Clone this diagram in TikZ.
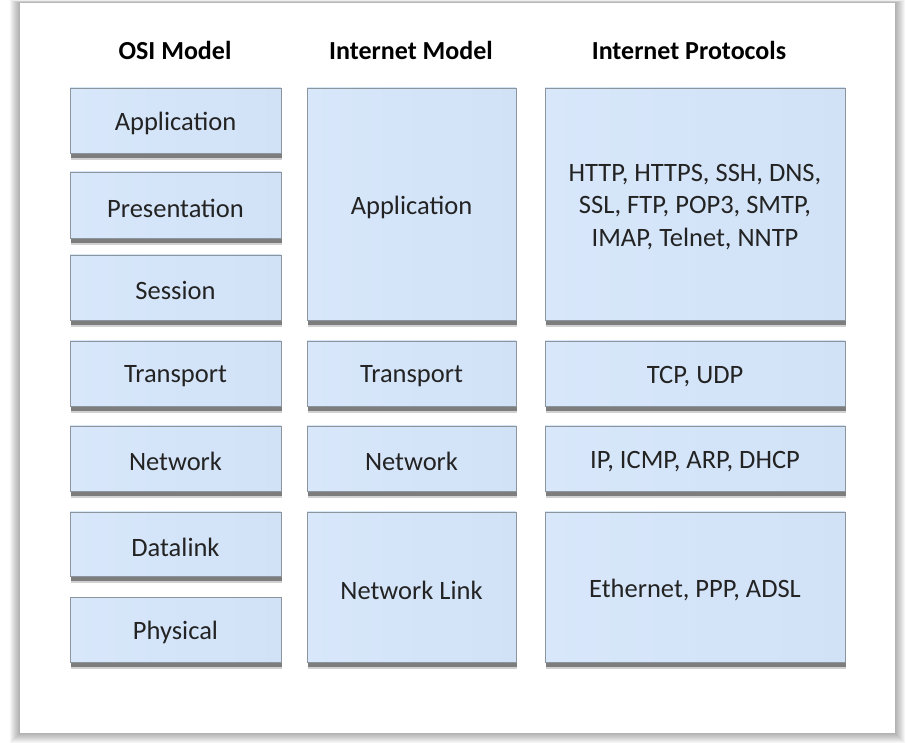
\documentclass[tikz,border=0pt]{standalone}
\usepackage{fontspec}
\setmainfont{Carlito}
\usetikzlibrary{shadows}
\definecolor{boxfill}{RGB}{209,226,247}
\definecolor{boxtop}{RGB}{216,231,250}
\definecolor{boxline}{RGB}{140,148,158}
\definecolor{txt}{RGB}{35,35,35}
\tikzset{
  layer/.style={draw=boxline, line width=0.9pt, left color=boxtop, right color=boxfill,
    text=txt, font=\fontsize{26.5}{32.5}\selectfont, align=center, inner sep=0pt,
    drop shadow={shadow xshift=1pt, shadow yshift=-7pt, opacity=0.18, fill=black},
    drop shadow={shadow xshift=0.5pt, shadow yshift=-5pt, opacity=0.4, fill=black}},
  lbl/.style={text=txt, font=\fontsize{26.5}{32.5}\selectfont, align=center, inner sep=0pt, yshift=-3pt},
  head/.style={font=\fontsize{26}{30}\selectfont\bfseries, text=black, inner sep=0pt}
}
\begin{document}
\begin{tikzpicture}[x=1pt,y=-1pt]
\useasboundingbox (0,0) rectangle (906,743);
% panel shadow
\foreach \i in {1,...,10}
  \fill[black,opacity=0.035] (20-\i,{3-0.3*\i}) rectangle (895+\i,733+\i);
\fill[white] (20,3) rectangle (895,733);
% headers
\node[head] (h1) at (175,50) {OSI Model};
\node[head] (h2) at (411,50) {Internet Model};
\node[head] (h3) at (689,50) {Internet Protocols};
% OSI column
\node[layer, minimum width=211pt, minimum height=65pt] (oa) at (175.5,120.5) {};
\node[layer, minimum width=211pt, minimum height=66pt] (op) at (175.5,205) {};
\node[layer, minimum width=211pt, minimum height=65pt] (os) at (175.5,287.5) {};
\node[layer, minimum width=211pt, minimum height=65pt] (ot) at (175.5,373.5) {};
\node[layer, minimum width=211pt, minimum height=65pt] (on) at (175.5,458.5) {};
\node[layer, minimum width=211pt, minimum height=64pt] (od) at (175.5,544) {};
\node[layer, minimum width=211pt, minimum height=65pt] (oph) at (175.5,629.5) {};
% Internet model column
\node[layer, minimum width=209pt, minimum height=232pt] (ia) at (411.5,204) {};
\node[layer, minimum width=209pt, minimum height=65pt] (it) at (411.5,373.5) {};
\node[layer, minimum width=209pt, minimum height=65pt] (in) at (411.5,458.5) {};
\node[layer, minimum width=209pt, minimum height=150pt] (il) at (411.5,587) {};
% Protocols column
\node[layer, minimum width=300pt, minimum height=232pt] (pa) at (695,204) {};
\node[layer, minimum width=300pt, minimum height=65pt] (pt) at (695,373.5) {};
\node[layer, minimum width=300pt, minimum height=65pt] (pn) at (695,458.5) {};
\node[layer, minimum width=300pt, minimum height=150pt] (pl) at (695,587) {};
% labels
\node[lbl] (toa) at (oa) {Application};
\node[lbl] (top) at (op) {Presentation};
\node[lbl] (tos) at (os) {Session};
\node[lbl] (tot) at (ot) {Transport};
\node[lbl] (ton) at (on) {Network};
\node[lbl] (tod) at (od) {Datalink};
\node[lbl] (toph) at (oph) {Physical};
\node[lbl] (tia) at (ia) {Application};
\node[lbl] (tit) at (it) {Transport};
\node[lbl] (tin) at (in) {Network};
\node[lbl] (til) at (il) {Network Link};
\node[lbl] (tpa) at (pa) {HTTP, HTTPS, SSH, DNS,\\SSL, FTP, POP3, SMTP,\\IMAP, Telnet, NNTP};
\node[lbl] (tpt) at (pt) {TCP, UDP};
\node[lbl] (tpn) at (pn) {IP, ICMP, ARP, DHCP};
\node[lbl] (tpl) at (pl) {Ethernet, PPP, ADSL};
\end{tikzpicture}
\end{document}
